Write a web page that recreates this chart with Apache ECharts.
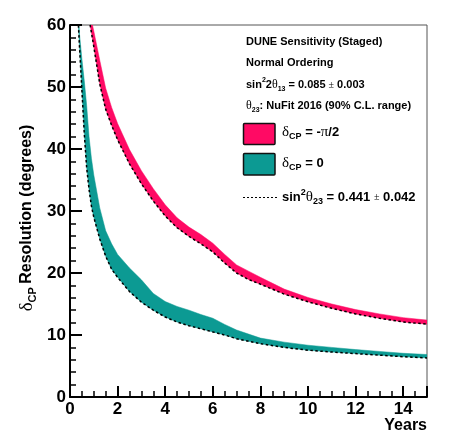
<!DOCTYPE html>
<html>
<head>
<meta charset="utf-8">
<script src="https://cdn.jsdelivr.net/npm/echarts@6/dist/echarts.min.js"></script>
<style>
  html, body { margin: 0; padding: 0; background: #fff; }
  #chart { width: 450px; height: 443px; }
</style>
</head>
<body>
<div id="chart"></div>
<script>
// Data (years, resolution in degrees)
const tealYears = [0.3, 0.4, 0.5, 0.6, 0.7, 0.8, 0.9, 1.0, 1.25, 1.5, 1.75, 2, 2.5, 3, 3.5, 4, 4.5, 5, 5.5, 6, 6.5, 7, 8, 9, 10, 11, 12, 13, 14, 15];
const tealNominal = [64, 56.4, 49.5, 42.5, 37, 33.5, 30.8, 29, 25.5, 22.7, 20.6, 19.3, 17.0, 15.3, 14.0, 12.9, 12.1, 11.5, 11.0, 10.5, 10.0, 9.4, 8.6, 8.0, 7.55, 7.25, 7.0, 6.75, 6.5, 6.3];
const tealUpper = [65.5, 58.5, 54.5, 51, 47, 42, 38.5, 35.8, 30.5, 26.8, 24.7, 23.0, 20.8, 18.9, 16.7, 15.4, 14.6, 14.0, 13.3, 12.7, 11.7, 10.8, 9.5, 8.85, 8.35, 8.0, 7.65, 7.35, 7.05, 6.85];

const pinkYears = [0.7, 0.8, 0.9, 1.0, 1.25, 1.5, 1.75, 2, 2.5, 3, 3.5, 4, 4.5, 5, 5.5, 6, 6.5, 7, 7.5, 8, 9, 10, 11, 12, 13, 14, 15];
const pinkNominal = [64, 61, 58.8, 56.5, 50.5, 46.4, 43.8, 41.5, 37.6, 34.4, 31.6, 29.2, 27.3, 25.9, 24.7, 23.4, 21.6, 20.0, 18.95, 18.2, 16.6, 15.35, 14.3, 13.4, 12.7, 12.1, 11.75];
const pinkUpper = [66.5, 63, 60.8, 59, 54.3, 49.8, 46.7, 44.1, 39.9, 36.5, 33.6, 31.0, 28.9, 27.4, 26.2, 24.8, 23.0, 21.3, 20.3, 19.3, 17.4, 16.05, 15.0, 14.1, 13.4, 12.8, 12.4];

const PINK = "#ff0a64";
const TEAL = "#0c9a93";
const SANS = "Liberation Sans";
const SERIF = "Liberation Serif";

// Band between nominal and upper curve, drawn as one polygon
function bandSeries(name, years, low, high, color) {
  return {
    name: name,
    type: "custom",
    clip: true,
    silent: true,
    data: [0],
    renderItem: (params, api) => {
      const pts = [];
      years.forEach((x, i) => pts.push(api.coord([x, high[i]])));
      for (let i = years.length - 1; i >= 0; i--) {
        pts.push(api.coord([years[i], low[i]]));
      }
      return {
        type: "polygon",
        shape: { points: pts },
        style: { fill: color, stroke: color, lineWidth: 0.5 },
      };
    },
  };
}

function dottedSeries(years, values) {
  return {
    type: "line",
    data: years.map((x, i) => [x, values[i]]),
    showSymbol: false,
    silent: true,
    clip: true,
    lineStyle: { color: "#000", width: 1.5, type: [2.5, 2.5] },
    z: 5,
  };
}

// Rich text styles for the legend
const rich = {
  b: { fontSize: 11, fontWeight: "bold", fontFamily: SANS, lineHeight: 16, color: "#000" },
  big: { fontSize: 13, fontWeight: "bold", fontFamily: SANS, lineHeight: 18, color: "#000" },
  g: { fontSize: 12, fontFamily: SERIF, lineHeight: 16, color: "#000" },
  gbig: { fontSize: 15, fontFamily: SERIF, lineHeight: 18, color: "#000" },
  pm: { fontSize: 10, fontFamily: SERIF, lineHeight: 16, color: "#000" },
  sub: { fontSize: 7, fontWeight: "bold", fontFamily: SANS, lineHeight: 8, verticalAlign: "bottom", color: "#000" },
  sup: { fontSize: 7, fontWeight: "bold", fontFamily: SANS, lineHeight: 8, verticalAlign: "top", color: "#000" },
  subbig: { fontSize: 9, fontWeight: "bold", fontFamily: SANS, lineHeight: 9, verticalAlign: "bottom", color: "#000" },
  supbig: { fontSize: 9, fontWeight: "bold", fontFamily: SANS, lineHeight: 9, verticalAlign: "top", color: "#000" },
};

function legendText(x, y, text) {
  return {
    type: "text",
    x: x,
    y: y,
    z: 20,
    style: { text: text, rich: rich, align: "left", verticalAlign: "middle" },
  };
}

const chart = echarts.init(document.getElementById("chart"), null, { renderer: "canvas" });

const option = {
  animation: false,
  backgroundColor: "#fff",
  grid: {
    left: 70,
    right: 23,
    top: 25,
    bottom: 46,
    show: true,
    borderColor: "#555",
    borderWidth: 1,
    containLabel: false,
    outerBoundsMode: "none",
  },
  xAxis: {
    type: "value",
    min: 0,
    max: 15,
    interval: 2,
    z: 10,
    axisLine: { onZero: false, lineStyle: { color: "#000", width: 2 } },
    axisTick: { inside: true, length: 11, lineStyle: { color: "#000", width: 2 } },
    minorTick: { show: true, splitNumber: 4, length: 6, lineStyle: { color: "#000", width: 1.5 } },
    splitLine: { show: false },
    axisLabel: {
      color: "#000",
      fontSize: 17,
      fontWeight: "bold",
      fontFamily: SANS,
      margin: 4,
      showMaxLabel: false,
    },
  },
  yAxis: {
    type: "value",
    min: 0,
    max: 60,
    interval: 10,
    z: 10,
    axisLine: { onZero: false, lineStyle: { color: "#000", width: 2 } },
    axisTick: { inside: true, length: 12, lineStyle: { color: "#000", width: 2 } },
    minorTick: { show: true, splitNumber: 5, length: 6, lineStyle: { color: "#000", width: 1.5 } },
    splitLine: { show: false },
    axisLabel: {
      color: "#000",
      fontSize: 17,
      fontWeight: "bold",
      fontFamily: SANS,
      margin: 4,
    },
  },
  series: [
    bandSeries("pink", pinkYears, pinkNominal, pinkUpper, PINK),
    bandSeries("teal", tealYears, tealNominal, tealUpper, TEAL),
    dottedSeries(pinkYears, pinkNominal),
    dottedSeries(tealYears, tealNominal),
  ],
  graphic: [
    // Axis titles
    {
      type: "text",
      x: 27,
      y: 218,
      rotation: Math.PI / 2,
      style: {
        text: "{g|δ}{s|CP} {t|Resolution (degrees)}",
        align: "center",
        verticalAlign: "middle",
        rich: {
          g: { fontSize: 19, fontFamily: SERIF, lineHeight: 22, color: "#000" },
          s: { fontSize: 11, fontWeight: "bold", fontFamily: SANS, lineHeight: 11, verticalAlign: "bottom", color: "#000" },
          t: { fontSize: 16, fontWeight: "bold", fontFamily: SANS, lineHeight: 22, color: "#000" },
        },
      },
    },
    {
      type: "text",
      x: 427,
      y: 426,
      style: {
        text: "Years",
        align: "right",
        verticalAlign: "middle",
        fontSize: 16,
        fontWeight: "bold",
        fontFamily: SANS,
        fill: "#000",
      },
    },
    // Legend
    legendText(246, 42, "{b|DUNE Sensitivity (Staged)}"),
    legendText(246, 63, "{b|Normal Ordering}"),
    legendText(246, 85, "{b|sin}{sup|2}{b|2}{g|θ}{sub|13}{b| = 0.085 }{pm|±}{b| 0.003}"),
    legendText(246, 106, "{g|θ}{sub|23}{b|: NuFit 2016 (90% C.L. range)}"),
    {
      type: "rect",
      z: 20,
      shape: { x: 243.5, y: 123.5, width: 31.5, height: 21, r: 1 },
      style: { fill: PINK, stroke: "#111", lineWidth: 1.5 },
    },
    legendText(282, 132, "{gbig|δ}{subbig|CP}{big| = -}{gbig|π}{big|/2}"),
    {
      type: "rect",
      z: 20,
      shape: { x: 243.5, y: 153.5, width: 31.5, height: 21.5, r: 1 },
      style: { fill: TEAL, stroke: "#111", lineWidth: 1.5 },
    },
    legendText(282, 163, "{gbig|δ}{subbig|CP}{big| = 0}"),
    {
      type: "line",
      z: 20,
      shape: { x1: 243, y1: 197.5, x2: 278, y2: 197.5 },
      style: { stroke: "#000", lineWidth: 1.2, lineDash: [2, 2] },
    },
    legendText(282, 197, "{big|sin}{supbig|2}{gbig|θ}{subbig|23}{big| = 0.441 }{pm|±}{big| 0.042}"),
  ],
};

chart.setOption(option);
</script>
</body>
</html>
